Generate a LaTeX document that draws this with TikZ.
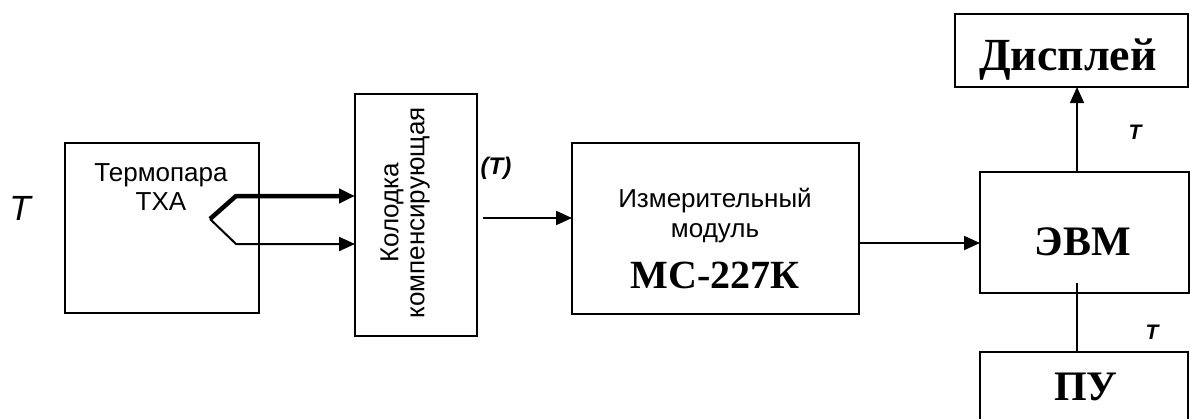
\documentclass[tikz,border=0pt]{standalone}
\usepackage{fontspec}
\setmainfont{Liberation Sans}
\newfontfamily\serifb{Liberation Serif}
\usetikzlibrary{arrows.meta}
\begin{document}
\begin{tikzpicture}[x=1pt,y=-1pt,
  box/.style={draw, line width=2pt, inner sep=0pt, outer sep=0pt, rectangle},
  sans/.style={font=\fontsize{26}{30}\selectfont, inner sep=0pt},
  big/.style={font=\serifb\bfseries\fontsize{42}{46}\selectfont, inner sep=0pt},
  tip/.style={-{Triangle[length=16pt,width=14pt]}},
  arr/.style={line width=2pt, tip},
  tl/.style={font=\bfseries\itshape\fontsize{21}{24}\selectfont, inner sep=0pt}]
\useasboundingbox (0,0) rectangle (1190,418);
\fill[white] (0,0) rectangle (1190,418);
% boxes
\node[box, minimum width=194pt, minimum height=170pt] (tp) at (162,228) {};
\node[box, minimum width=122pt, minimum height=242pt] (kol) at (416,215) {};
\node[box, minimum width=287pt, minimum height=171pt] (izm) at (715.5,228.5) {};
\node[box, minimum width=209pt, minimum height=121pt] (evm) at (1084.5,232.5) {};
\node[box, minimum width=233pt, minimum height=73pt] (disp) at (1071.5,50.5) {};
\node[box, minimum width=208pt, minimum height=100pt] (pu) at (1084,402) {};
% texts
\node[inner sep=0pt, font=\itshape\fontsize{35}{40}\selectfont] (Tin) at (20,208) {T};
\node[sans, anchor=base] (tp1) at (161,181) {Термопара};
\node[sans, anchor=base] (tp2) at (161,210) {ТХА};
\node[sans, rotate=90, align=center, font=\fontsize{26}{26}\selectfont] (kt) at (405,213) {Колодка\\компенсирующая};
\node[inner sep=0pt, font=\bfseries\itshape\fontsize{24}{28}\selectfont] (Tk) at (496,168) {(T)};
\node[sans, anchor=base] (i1) at (715,207) {Измерительный};
\node[sans, anchor=base] (i2) at (715,237) {модуль};
\node[inner sep=0pt, anchor=base, font=\serifb\bfseries\fontsize{40}{44}\selectfont] (i3) at (715,288) {МС-227К};
\node[big, anchor=base] (evmt) at (1083,255) {ЭВМ};
\node[inner sep=0pt, anchor=base, font=\serifb\bfseries\fontsize{46}{50}\selectfont] (dispt) at (1068,70) {Дисплей};
\node[big, anchor=base] (put) at (1086,400) {ПУ};
\node[tl] (T1) at (1135,132) {T};
\node[tl] (T2) at (1152,332) {T};
% thermocouple wires
\coordinate (v) at (210,219);
\coordinate (ub) at (236,196);
\coordinate (lb) at (236,244);
\draw[line width=4.5pt, line join=miter, tip] (v) -- (ub) -- (ub -| kol.west);
\draw[arr, line join=miter] (v) -- (lb) -- (lb -| kol.west);
% connectors
\coordinate (a1) at (483,218);
\draw[arr] (a1) -- (a1 -| izm.west);
\coordinate (a2) at (859,243);
\draw[arr] (a2) -- (a2 -| evm.west);
\coordinate (a3) at (1077,172);
\draw[arr, line width=1.6pt] (a3) -- (a3 |- disp.south);
\coordinate (a4) at (1077,283);
\draw[line width=1.6pt] (a4) -- (a4 |- pu.north);
\end{tikzpicture}
\end{document}
